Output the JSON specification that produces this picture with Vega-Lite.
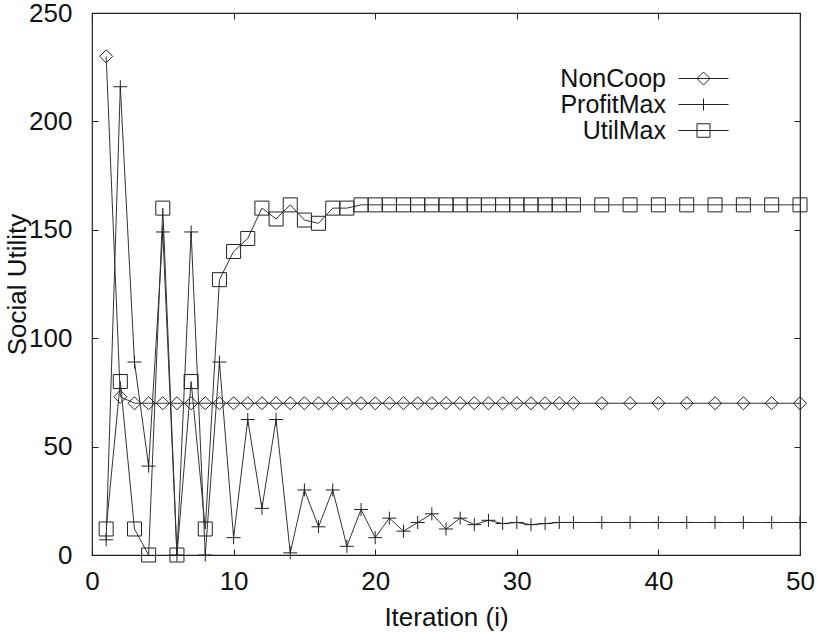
{
  "$schema": "https://vega.github.io/schema/vega-lite/v6.json",
  "width": 708,
  "height": 542,
  "autosize": {"type": "none"},
  "padding": {"left": 92, "top": 13, "right": 17, "bottom": 80},
  "background": "white",
  "config": {
    "view": {"stroke": "#222", "strokeWidth": 1.2},
    "font": "Liberation Sans",
    "axis": {
      "domain": false,
      "grid": false,
      "tickSize": -6,
      "tickColor": "#222",
      "tickWidth": 1,
      "labelFont": "Liberation Sans",
      "labelFontSize": 26,
      "labelColor": "#111",
      "titleFont": "Liberation Sans",
      "titleFontSize": 26,
      "titleFontWeight": "normal",
      "titleColor": "#111",
      "labelFlush": false,
      "labelOverlap": false
    }
  },
  "data": {
    "values": [
      {"i":1,"s":"NonCoop","v":230},{"i":2,"s":"NonCoop","v":73},{"i":3,"s":"NonCoop","v":70},{"i":4,"s":"NonCoop","v":70},{"i":5,"s":"NonCoop","v":70},{"i":6,"s":"NonCoop","v":70},{"i":7,"s":"NonCoop","v":70},{"i":8,"s":"NonCoop","v":70},{"i":9,"s":"NonCoop","v":70},{"i":10,"s":"NonCoop","v":70},
      {"i":11,"s":"NonCoop","v":70},{"i":12,"s":"NonCoop","v":70},{"i":13,"s":"NonCoop","v":70},{"i":14,"s":"NonCoop","v":70},{"i":15,"s":"NonCoop","v":70},{"i":16,"s":"NonCoop","v":70},{"i":17,"s":"NonCoop","v":70},{"i":18,"s":"NonCoop","v":70},{"i":19,"s":"NonCoop","v":70},{"i":20,"s":"NonCoop","v":70},
      {"i":21,"s":"NonCoop","v":70},{"i":22,"s":"NonCoop","v":70},{"i":23,"s":"NonCoop","v":70},{"i":24,"s":"NonCoop","v":70},{"i":25,"s":"NonCoop","v":70},{"i":26,"s":"NonCoop","v":70},{"i":27,"s":"NonCoop","v":70},{"i":28,"s":"NonCoop","v":70},{"i":29,"s":"NonCoop","v":70},{"i":30,"s":"NonCoop","v":70},
      {"i":31,"s":"NonCoop","v":70},{"i":32,"s":"NonCoop","v":70},{"i":33,"s":"NonCoop","v":70},{"i":34,"s":"NonCoop","v":70},{"i":36,"s":"NonCoop","v":70},{"i":38,"s":"NonCoop","v":70},{"i":40,"s":"NonCoop","v":70},{"i":42,"s":"NonCoop","v":70},{"i":44,"s":"NonCoop","v":70},{"i":46,"s":"NonCoop","v":70},{"i":48,"s":"NonCoop","v":70},{"i":50,"s":"NonCoop","v":70},
      {"i":1,"s":"ProfitMax","v":7},{"i":2,"s":"ProfitMax","v":216},{"i":3,"s":"ProfitMax","v":89},{"i":4,"s":"ProfitMax","v":41},{"i":5,"s":"ProfitMax","v":149},{"i":6,"s":"ProfitMax","v":0},{"i":7,"s":"ProfitMax","v":149},{"i":8,"s":"ProfitMax","v":0},{"i":9,"s":"ProfitMax","v":89},{"i":10,"s":"ProfitMax","v":8},
      {"i":11,"s":"ProfitMax","v":62.5},{"i":12,"s":"ProfitMax","v":21.5},{"i":13,"s":"ProfitMax","v":62.5},{"i":14,"s":"ProfitMax","v":1},{"i":15,"s":"ProfitMax","v":30},{"i":16,"s":"ProfitMax","v":13},{"i":17,"s":"ProfitMax","v":30},{"i":18,"s":"ProfitMax","v":4},{"i":19,"s":"ProfitMax","v":21},{"i":20,"s":"ProfitMax","v":8},
      {"i":21,"s":"ProfitMax","v":17},{"i":22,"s":"ProfitMax","v":11},{"i":23,"s":"ProfitMax","v":15},{"i":24,"s":"ProfitMax","v":19},{"i":25,"s":"ProfitMax","v":12},{"i":26,"s":"ProfitMax","v":17},{"i":27,"s":"ProfitMax","v":14},{"i":28,"s":"ProfitMax","v":16},{"i":29,"s":"ProfitMax","v":14.5},{"i":30,"s":"ProfitMax","v":15},
      {"i":31,"s":"ProfitMax","v":14},{"i":32,"s":"ProfitMax","v":14.5},{"i":33,"s":"ProfitMax","v":15},{"i":34,"s":"ProfitMax","v":15},{"i":36,"s":"ProfitMax","v":15},{"i":38,"s":"ProfitMax","v":15},{"i":40,"s":"ProfitMax","v":15},{"i":42,"s":"ProfitMax","v":15},{"i":44,"s":"ProfitMax","v":15},{"i":46,"s":"ProfitMax","v":15},{"i":48,"s":"ProfitMax","v":15},{"i":50,"s":"ProfitMax","v":15},
      {"i":1,"s":"UtilMax","v":12},{"i":2,"s":"UtilMax","v":80},{"i":3,"s":"UtilMax","v":12},{"i":4,"s":"UtilMax","v":0},{"i":5,"s":"UtilMax","v":160},{"i":6,"s":"UtilMax","v":0},{"i":7,"s":"UtilMax","v":80},{"i":8,"s":"UtilMax","v":12},{"i":9,"s":"UtilMax","v":127},{"i":10,"s":"UtilMax","v":140},
      {"i":11,"s":"UtilMax","v":146},{"i":12,"s":"UtilMax","v":160},{"i":13,"s":"UtilMax","v":155},{"i":14,"s":"UtilMax","v":161.5},{"i":15,"s":"UtilMax","v":154.5},{"i":16,"s":"UtilMax","v":153},{"i":17,"s":"UtilMax","v":160},{"i":18,"s":"UtilMax","v":160},{"i":19,"s":"UtilMax","v":161.5},{"i":20,"s":"UtilMax","v":161.5},
      {"i":21,"s":"UtilMax","v":161.5},{"i":22,"s":"UtilMax","v":161.5},{"i":23,"s":"UtilMax","v":161.5},{"i":24,"s":"UtilMax","v":161.5},{"i":25,"s":"UtilMax","v":161.5},{"i":26,"s":"UtilMax","v":161.5},{"i":27,"s":"UtilMax","v":161.5},{"i":28,"s":"UtilMax","v":161.5},{"i":29,"s":"UtilMax","v":161.5},{"i":30,"s":"UtilMax","v":161.5},
      {"i":31,"s":"UtilMax","v":161.5},{"i":32,"s":"UtilMax","v":161.5},{"i":33,"s":"UtilMax","v":161.5},{"i":34,"s":"UtilMax","v":161.5},{"i":36,"s":"UtilMax","v":161.5},{"i":38,"s":"UtilMax","v":161.5},{"i":40,"s":"UtilMax","v":161.5},{"i":42,"s":"UtilMax","v":161.5},{"i":44,"s":"UtilMax","v":161.5},{"i":46,"s":"UtilMax","v":161.5},{"i":48,"s":"UtilMax","v":161.5},{"i":50,"s":"UtilMax","v":161.5}
    ]
  },
  "resolve": {"axis": {"x": "independent", "y": "independent"}, "scale": {"shape": "independent"}},
  "layer": [
    {
      "mark": {"type": "line", "color": "#333", "strokeWidth": 1, "clip": false},
      "encoding": {
        "x": {"field": "i", "type": "quantitative", "scale": {"domain": [0, 50], "nice": false},
              "axis": {"orient": "bottom", "values": [0,10,20,30,40,50], "title": "Iteration (i)", "labelPadding": 19, "titlePadding": 10}},
        "y": {"field": "v", "type": "quantitative", "scale": {"domain": [0, 250], "nice": false},
              "axis": {"orient": "left", "values": [0,50,100,150,200,250], "title": "Social Utility", "labelPadding": 26, "titlePadding": -2}},
        "detail": {"field": "s"}
      }
    },
    {
      "mark": {"type": "point", "filled": false, "stroke": "#222", "strokeWidth": 1, "size": 196, "opacity": 1, "clip": false},
      "encoding": {
        "x": {"field": "i", "type": "quantitative", "axis": null},
        "y": {"field": "v", "type": "quantitative", "axis": null},
        "shape": {
          "field": "s", "type": "nominal",
          "scale": {"domain": ["NonCoop", "ProfitMax", "UtilMax"],
                    "range": ["M0,-0.93L0.93,0L0,0.93L-0.93,0Z", "M-1,0L1,0M0,-0.93L0,0.93", "M-1,-1L1,-1L1,1L-1,1Z"]},
          "legend": null
        }
      }
    },
    {
      "transform": [{"filter": "datum.i == 50"}],
      "mark": {"type": "point", "filled": false, "stroke": "#222", "strokeWidth": 1, "size": 100, "opacity": 0, "clip": false},
      "encoding": {
        "x": {"field": "i", "type": "quantitative", "axis": null},
        "y": {"field": "v", "type": "quantitative", "axis": null},
        "shape": {
          "field": "s", "type": "nominal",
          "scale": {"domain": ["NonCoop", "ProfitMax", "UtilMax"],
                    "range": ["M-5,0L5,0M-1.3,0L0,-1.3L1.3,0L0,1.3Z", "M-5,0L5,0M0,-1.2L0,1.2", "M-5,0L5,0M-1.3,-1.35L1.3,-1.35L1.3,1.35L-1.3,1.35Z"]},
          "legend": {
            "orient": "none", "legendX": 599, "legendY": 53,
            "title": null,
            "symbolSize": 100,
            "symbolOpacity": 1,
            "symbolStrokeWidth": 1,
            "symbolStrokeColor": "#222",
            "symbolFillColor": "transparent",
            "labelAlign": "right",
            "labelOffset": -50,
            "labelFont": "Liberation Sans",
            "labelFontSize": 25,
            "labelColor": "#111",
            "labelLimit": 400,
            "rowPadding": 0,
            "padding": 0
          }
        }
      }
    },
    {
      "mark": {"type": "line", "opacity": 0},
      "encoding": {
        "x": {"field": "i", "type": "quantitative", "axis": {"orient": "top", "values": [0,10,20,30,40,50], "labels": false, "title": null}},
        "y": {"field": "v", "type": "quantitative", "axis": {"orient": "right", "values": [0,50,100,150,200,250], "labels": false, "title": null}},
        "detail": {"field": "s"}
      }
    }
  ]
}
